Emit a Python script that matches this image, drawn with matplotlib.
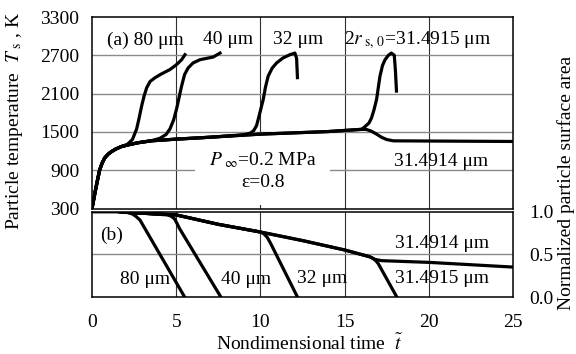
import matplotlib
matplotlib.use("Agg")
import matplotlib.pyplot as plt

plt.rcParams["font.family"] = ["Liberation Serif", "DejaVu Serif"]
plt.rcParams["mathtext.fontset"] = "stix"
plt.rcParams["font.size"] = 14

# (a) particle temperature, K -- common heating curve
t_heat = [0, 0.1, 0.2, 0.3, 0.45, 0.6, 0.75, 0.95, 1.15, 1.4, 1.74, 2.2, 2.73, 3.5, 4.9, 6.9, 10, 12, 14, 16.0]
T_heat = [300, 440, 580, 710, 900, 1010, 1090, 1150, 1190, 1230, 1270, 1300, 1330, 1360, 1385, 1415, 1465,
          1485, 1505, 1540]

t_80 = [0, 0.1, 0.2, 0.3, 0.45, 0.6, 0.75, 0.95, 1.15, 1.4, 1.74, 2.1, 2.4, 2.65, 2.8, 2.95, 3.1, 3.25,
        3.45, 3.74, 4.1, 4.63, 5.0, 5.32, 5.52]
T_80 = [300, 440, 580, 710, 900, 1010, 1090, 1150, 1190, 1230, 1270, 1305, 1380, 1546, 1720, 1908, 2070,
        2193, 2290, 2348, 2405, 2477, 2550, 2630, 2709]
t_40 = [0, 0.1, 0.2, 0.3, 0.45, 0.6, 0.75, 0.95, 1.15, 1.4, 1.74, 2.2, 2.73, 3.5, 4.04, 4.4, 4.63, 4.85,
        5.02, 5.18, 5.32, 5.5, 5.71, 6.0, 6.41, 7.2, 7.6]
T_40 = [300, 440, 580, 710, 900, 1010, 1090, 1150, 1190, 1230, 1270, 1300, 1330, 1360, 1400, 1460, 1547,
        1690, 1857, 2050, 2218, 2400, 2503, 2580, 2631, 2673, 2735]
t_32 = [0, 0.1, 0.2, 0.3, 0.45, 0.6, 0.75, 0.95, 1.15, 1.4, 1.74, 2.2, 2.73, 3.5, 4.9, 6.9, 9.0, 9.4, 9.6,
        9.77, 9.95, 10.17, 10.3, 10.46, 10.7, 10.96, 11.35, 11.75, 12.05, 12.15, 12.2]
T_32 = [300, 440, 580, 710, 900, 1010, 1090, 1150, 1190, 1230, 1270, 1300, 1330, 1360, 1385, 1415, 1455,
        1480, 1520, 1597, 1780, 2011, 2200, 2373, 2500, 2580, 2660, 2709, 2735, 2650, 2350]
t_815 = t_heat + [16.2, 16.45, 16.6, 16.75, 16.9, 17.1, 17.25, 17.4, 17.6, 17.78, 17.95, 18.02, 18.08]
T_815 = T_heat + [1580, 1640, 1720, 1850, 2011, 2373, 2540, 2630, 2700, 2735, 2700, 2450, 2140]
t_814 = t_heat + [16.3, 16.6, 16.9, 17.2, 17.5, 17.9, 25]
T_814 = T_heat + [1538, 1510, 1465, 1415, 1380, 1360, 1350]

# (b) normalized particle surface area
a_t80 = [0, 1.5, 2.0, 2.2, 2.4, 2.6, 2.85, 5.5]
a_80 = [1.0, 1.0, 0.993, 0.985, 0.97, 0.945, 0.9, 0.0]
a_t40 = [0, 1.5, 2.0, 3.0, 4.5, 4.7, 4.9, 5.05, 5.2, 7.65]
a_40 = [1.0, 1.0, 0.99, 0.98, 0.96, 0.945, 0.915, 0.86, 0.8, 0.0]
a_t32 = [0, 1.5, 2.0, 3.0, 5.0, 7.5, 10.0, 10.2, 10.4, 10.6, 12.2]
a_32 = [1.0, 1.0, 0.99, 0.98, 0.96, 0.85, 0.76, 0.74, 0.7, 0.63, 0.0]
a_t815 = [0, 1.5, 2.0, 3.0, 5.0, 7.5, 10.0, 12.5, 15.0, 16.5, 16.7, 16.85, 17.0, 18.1]
a_815 = [1.0, 1.0, 0.99, 0.98, 0.96, 0.85, 0.76, 0.66, 0.55, 0.47, 0.45, 0.425, 0.39, 0.0]
a_t814 = [0, 1.5, 2.0, 3.0, 5.0, 7.5, 10.0, 12.5, 15.0, 16.5, 16.8, 17.2, 20.0, 25.0]
a_814 = [1.0, 1.0, 0.99, 0.98, 0.96, 0.85, 0.76, 0.66, 0.55, 0.47, 0.44, 0.425, 0.405, 0.35]

fig = plt.figure(figsize=(5.76, 3.54), dpi=100)
ax1 = fig.add_axes([92 / 576, 1 - 208.5 / 354, 421 / 576, 191.5 / 354])
ax2 = fig.add_axes([92 / 576, 1 - 297 / 354, 421 / 576, 85.5 / 354])

line_kw = dict(color="black", lw=2.3, zorder=4, solid_joinstyle="round")
for ax in (ax1, ax2):
    ax.set_xlim(0, 25)
    for x in (5, 10, 15, 20):
        ax.axvline(x, color="#303030", lw=0.8, zorder=1)
    for s in ax.spines.values():
        s.set_linewidth(1.1)
        s.set_zorder(5)
    ax.tick_params(length=0)

# upper panel
for y in (900, 1500, 2100, 2700):
    ax1.axhline(y, color="#8a8a8a", lw=1.0, zorder=1)
ax1.plot(t_80, T_80, **line_kw)
ax1.plot(t_40, T_40, **line_kw)
ax1.plot(t_32, T_32, **line_kw)
ax1.plot(t_815, T_815, **line_kw)
ax1.plot(t_814, T_814, **line_kw)
ax1.set_ylim(300, 3300)
ax1.set_yticks(range(300, 3301, 600))
ax1.set_xticks([])
ax1.tick_params(axis="y", pad=9)

ax1.text(3.15, 2941, "(a) 80 μm", ha="center", va="center", zorder=5)
ax1.text(8.1, 2941, "40 μm", ha="center", va="center", zorder=5)
ax1.text(12.25, 2941, "32 μm", ha="center", va="center", zorder=5)
ax1.text(19.36, 2941, r"2$r_{\rm\ s,\,0}$=31.4915 μm", ha="center", va="center", zorder=5)
ax1.text(10.15, 890, "$P_{\\ \\infty}$=0.2 MPa\nε=0.8", ha="center", va="center",
         linespacing=1.3, zorder=2,
         bbox=dict(facecolor="white", edgecolor="none", pad=10))
ax1.text(20.72, 1034, "31.4914 μm", ha="center", va="center", zorder=5)

# lower panel
ax2.axhline(0.5, color="#8a8a8a", lw=1.0, zorder=1)
ax2.plot(a_t80, a_80, **line_kw)
ax2.plot(a_t40, a_40, **line_kw)
ax2.plot(a_t32, a_32, **line_kw)
ax2.plot(a_t815, a_815, **line_kw)
ax2.plot(a_t814, a_814, **line_kw)
ax2.set_ylim(0, 1)
ax2.yaxis.tick_right()
ax2.set_yticks([0, 0.5, 1.0])
ax2.set_yticklabels(["0.0", "0.5", "1.0"])
ax2.set_xticks(range(0, 26, 5))
ax2.tick_params(axis="y", pad=12)
ax2.tick_params(axis="x", pad=12)

ax2.text(1.19, 0.72, "(b)", ha="center", va="center", zorder=5)
ax2.text(3.15, 0.2, "80 μm", ha="center", va="center", zorder=5)
ax2.text(9.15, 0.2, "40 μm", ha="center", va="center", zorder=5)
ax2.text(13.66, 0.22, "32 μm", ha="center", va="center", zorder=5)
ax2.text(20.78, 0.22, "31.4915 μm", ha="center", va="center", zorder=5)
ax2.text(20.78, 0.63, "31.4914 μm", ha="center", va="center", zorder=5)

fig.text(15 / 576, 1 - 121 / 354, r"Particle temperature  $T_{\rm\ s}$ , K", rotation=90,
         ha="center", va="center")
fig.text(566 / 576, 1 - 183 / 354, "Normalized particle surface area", rotation=90,
         ha="center", va="center")
fig.text(309 / 576, 1 - 344 / 354, r"Nondimensional time  $\tilde{t}$", ha="center", va="center")

fig.savefig("out.png", dpi=100)
